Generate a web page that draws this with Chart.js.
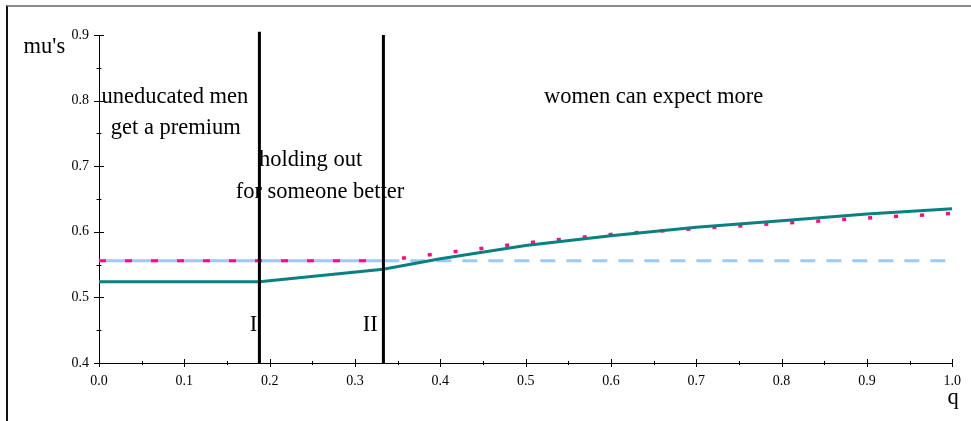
<!DOCTYPE html>
<html>
<head>
<meta charset="utf-8">
<script src="https://cdn.jsdelivr.net/npm/chart.js@4"></script>
<style>
  html, body { margin: 0; padding: 0; background: #fff; }
  #wrap { position: relative; width: 971px; height: 421px; }
  #frame { position: absolute; left: 6px; top: 5px; right: 0; bottom: 0; border-top: 2px solid #8a8a8a; border-left: 2px solid #111; pointer-events: none; }
</style>
</head>
<body>
<div id="wrap"><canvas id="muChart" width="971" height="421"></canvas><div id="frame"></div></div>
<script>
// 구간 경계 (I, II)
const q_I = 0.188, q_II = 1 / 3;
const top_I = 0.905, top_II = 0.9;
const mu_bar = 0.556;

// 청록 실선
const teal_q  = [0, 0.188, 0.333, 0.4, 0.5, 0.6, 0.7, 0.8, 0.9, 1.0];
const teal_mu = [0.524, 0.524, 0.543, 0.559, 0.579, 0.594, 0.607, 0.617, 0.627, 0.635];

// 분홍 점선
const pink_flat_q  = [0, 0.333];
const pink_q  = [0.333, 0.4, 0.5, 0.6, 0.7, 0.8, 0.9, 1.0];
const pink_mu = [0.556, 0.567, 0.583, 0.596, 0.605, 0.613, 0.621, 0.628];

// 하늘색 파선
const blue_solid_q = [0, 0.352];
const blue_dash_q  = [0.352, 1.0];

// 눈금
const x_ticks = [0, 0.1, 0.2, 0.3, 0.4, 0.5, 0.6, 0.7, 0.8, 0.9, 1.0];
const y_ticks = [0.4, 0.5, 0.6, 0.7, 0.8, 0.9];

// 주석
const notes = [
    { text: 'uneducated men', q: 0.089, mu: 0.806 },
    { text: 'get a premium', q: 0.09, mu: 0.758 },
    { text: 'holding out', q: 0.248, mu: 0.709 },
    { text: 'for someone better', q: 0.259, mu: 0.661 },
    { text: 'women can expect more', q: 0.65, mu: 0.806 },
    { text: 'I', q: 0.181, mu: 0.458 },
    { text: 'II', q: 0.318, mu: 0.458 },
    { text: "mu's", q: -0.064, mu: 0.882 },
    { text: 'q', q: 1.001, mu: 0.347 }
];

const pts = (xs, ys) => xs.map((x, i) => ({ x: x, y: ys[i] }));
const flat = (xs, v) => xs.map(x => ({ x: x, y: v }));

const TEAL = '#0a8080', PINK = '#ff0a84', BLUE = '#9ccaf8';
const SERIF = '"Liberation Serif", "DejaVu Serif", serif';

// 눈금 + 주석 그리기
const axisDecor = {
    id: 'axisDecor',
    afterDraw(chart) {
        const { ctx, scales: { x, y } } = chart;
        ctx.save();
        ctx.strokeStyle = '#000';
        ctx.lineWidth = 1;
        const y0 = y.getPixelForValue(0.4), x0 = x.getPixelForValue(0);
        for (let i = 0; i <= 20; i++) {
            const px = Math.round(x.getPixelForValue(i * 0.05)) + 0.5;
            const len = i % 2 === 0 ? 4 : 2;
            ctx.beginPath(); ctx.moveTo(px, y0 - len); ctx.lineTo(px, y0 + len); ctx.stroke();
        }
        for (let i = 0; i <= 10; i++) {
            const py = Math.round(y.getPixelForValue(0.4 + i * 0.05)) + 0.5;
            const len = i % 2 === 0 ? 5 : 2.5;
            ctx.beginPath(); ctx.moveTo(x0 - len, py); ctx.lineTo(x0 + len, py); ctx.stroke();
        }
        ctx.fillStyle = '#000';
        ctx.font = '22.5px ' + SERIF;
        ctx.textAlign = 'center';
        ctx.textBaseline = 'middle';
        notes.forEach(n => {
            ctx.fillText(n.text, x.getPixelForValue(n.q), y.getPixelForValue(n.mu));
        });
        ctx.restore();
    }
};

const data = {
    datasets: [
        { label: 'I', data: [{ x: q_I, y: 0.4 }, { x: q_I, y: top_I }], borderColor: '#000', borderWidth: 3, clip: false, order: 0 },
        { label: 'II', data: [{ x: q_II, y: 0.4 }, { x: q_II, y: top_II }], borderColor: '#000', borderWidth: 3, clip: false, order: 0 },
        { label: 'teal', data: pts(teal_q, teal_mu), borderColor: TEAL, borderWidth: 3, order: 1 },
        { label: 'pink flat', data: flat(pink_flat_q, mu_bar), borderColor: PINK, borderWidth: 3, borderDash: [7, 19], order: 2 },
        { label: 'pink', data: pts(pink_q, pink_mu), borderColor: PINK, borderWidth: 3.5, borderDash: [4, 22], borderDashOffset: -19, order: 2 },
        { label: 'blue solid', data: flat(blue_solid_q, mu_bar), borderColor: BLUE, borderWidth: 3, order: 3 },
        { label: 'blue dash', data: flat(blue_dash_q, mu_bar), borderColor: BLUE, borderWidth: 3, borderDash: [15, 11], borderDashOffset: 15, order: 3 }
    ]
};

const options = {
    responsive: false,
    animation: false,
    events: [],
    layout: { padding: { top: 35, right: 16, left: 0, bottom: 0 } },
    elements: { point: { radius: 0 }, line: { tension: 0, borderCapStyle: 'butt' } },
    plugins: { legend: { display: false }, tooltip: { enabled: false } },
    scales: {
        x: {
            type: 'linear', min: 0, max: 1,
            afterFit(s) { s.height = 58; },
            afterBuildTicks(s) { s.ticks = x_ticks.map(v => ({ value: v })); },
            grid: { display: false, drawTicks: false },
            border: { display: true, color: '#000', width: 1 },
            ticks: { padding: 10, color: '#000', font: { family: SERIF, size: 14 }, maxRotation: 0, callback: v => v.toFixed(1) }
        },
        y: {
            type: 'linear', min: 0.4, max: 0.9,
            afterFit(s) { s.width = 99; },
            afterBuildTicks(s) { s.ticks = y_ticks.map(v => ({ value: v })); },
            grid: { display: false, drawTicks: false },
            border: { display: true, color: '#000', width: 1 },
            ticks: { padding: 10, color: '#000', font: { family: SERIF, size: 14 }, callback: v => v.toFixed(1) }
        }
    }
};

const ctx = document.getElementById('muChart').getContext('2d');
const muChart = new Chart(ctx, {
    type: 'line',
    data: data,
    options: options,
    plugins: [axisDecor]
});
</script>
</body>
</html>
